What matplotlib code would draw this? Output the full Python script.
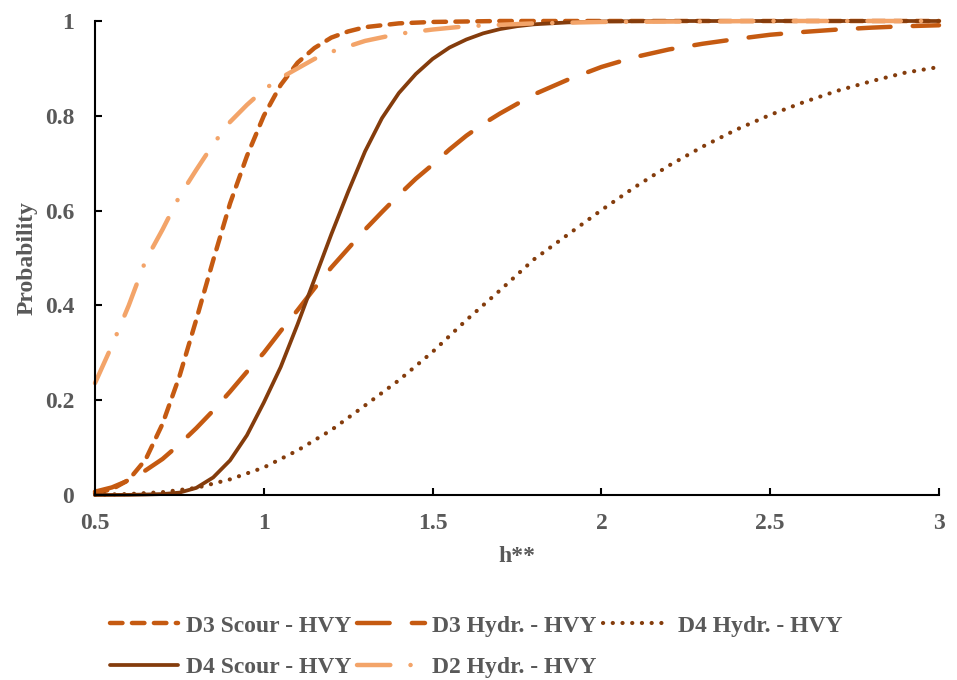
import matplotlib
matplotlib.use("Agg")
import matplotlib.pyplot as plt

# values
d3_scour_x = [0.5, 0.55, 0.6, 0.65, 0.7, 0.75, 0.8, 0.85, 0.9, 0.95, 1.0, 1.05,
              1.1, 1.15, 1.2, 1.25, 1.3, 1.4, 1.5, 1.7, 2.0, 2.5, 3.0]
d3_scour_y = [0.004, 0.012, 0.032, 0.075, 0.15, 0.25, 0.37, 0.495, 0.615, 0.715,
              0.80, 0.865, 0.912, 0.943, 0.965, 0.978, 0.987, 0.995, 0.998, 1.0,
              1.0, 1.0, 1.0]

d3_hydr_x = [0.5, 0.55, 0.6, 0.65, 0.7, 0.75, 0.8, 0.85, 0.9, 0.95, 1.0, 1.05,
             1.1, 1.15, 1.2, 1.25, 1.3, 1.35, 1.4, 1.45, 1.5, 1.55, 1.6, 1.65,
             1.7, 1.8, 1.9, 2.0, 2.1, 2.2, 2.3, 2.4, 2.5, 2.6, 2.7, 2.8, 2.9,
             3.0]
d3_hydr_y = [0.007, 0.016, 0.031, 0.052, 0.076, 0.107, 0.141, 0.178, 0.218,
             0.26, 0.30, 0.346, 0.39, 0.436, 0.48, 0.52, 0.56, 0.597, 0.633,
             0.667, 0.697, 0.729, 0.758, 0.783, 0.805, 0.845, 0.876, 0.903,
             0.924, 0.94, 0.952, 0.962, 0.971, 0.977, 0.982, 0.986, 0.989,
             0.991]

d4_hydr_x = [0.5, 0.6, 0.7, 0.8, 0.9, 1.0, 1.1, 1.2, 1.3, 1.4, 1.5, 1.6, 1.7,
             1.8, 1.9, 2.0, 2.1, 2.2, 2.3, 2.4, 2.5, 2.6, 2.7, 2.8, 2.9, 3.0]
d4_hydr_y = [0.0005, 0.002, 0.006, 0.015, 0.033, 0.058, 0.094, 0.137, 0.189,
             0.242, 0.302, 0.369, 0.432, 0.497, 0.549, 0.601, 0.650, 0.695,
             0.735, 0.771, 0.802, 0.829, 0.853, 0.873, 0.891, 0.903]

d4_scour_x = [0.5, 0.6, 0.65, 0.7, 0.75, 0.8, 0.85, 0.9, 0.95, 1.0, 1.05, 1.1,
              1.15, 1.2, 1.25, 1.3, 1.35, 1.4, 1.45, 1.5, 1.55, 1.6, 1.65, 1.7,
              1.75, 1.8, 1.9, 2.0, 2.2, 2.6, 3.0]
d4_scour_y = [0.0, 0.0003, 0.001, 0.002, 0.005, 0.015, 0.037, 0.073, 0.126,
              0.195, 0.27, 0.36, 0.455, 0.55, 0.64, 0.725, 0.795, 0.848, 0.888,
              0.92, 0.944, 0.961, 0.974, 0.983, 0.989, 0.993, 0.997, 0.999,
              1.0, 1.0, 1.0]

d2_hydr_x = [0.5, 0.55, 0.6, 0.65, 0.7, 0.75, 0.8, 0.85, 0.9, 0.95, 1.0, 1.05,
             1.1, 1.15, 1.2, 1.3, 1.4, 1.5, 1.6, 1.8, 2.0, 2.5, 3.0]
d2_hydr_y = [0.236, 0.315, 0.40, 0.495, 0.56, 0.63, 0.686, 0.74, 0.787, 0.823,
             0.855, 0.88, 0.90, 0.92, 0.935, 0.958, 0.973, 0.982, 0.989, 0.995,
             0.998, 1.0, 1.0]

x_ticks = [0.5, 1.0, 1.5, 2.0, 2.5, 3.0]
x_tick_labels = ["0.5", "1", "1.5", "2", "2.5", "3"]
y_ticks = [0.0, 0.2, 0.4, 0.6, 0.8, 1.0]
y_tick_labels = ["0", "0.2", "0.4", "0.6", "0.8", "1"]

TEXT = "#595959"
ORANGE = "#C55A11"
BROWN = "#843C0C"
LIGHT = "#F3A469"

plt.rcParams["font.family"] = ["Liberation Serif", "DejaVu Serif"]
plt.rcParams["font.weight"] = "bold"
plt.rcParams["lines.scale_dashes"] = False

fig = plt.figure(figsize=(9.57, 6.8), dpi=100)
ax = fig.add_axes([95 / 957, 1 - 495 / 680, 844 / 957, 474 / 680])

common = dict(clip_on=False, dash_capstyle="round", solid_capstyle="round")

ax.plot(d3_scour_x, d3_scour_y, color=ORANGE, lw=3.2, dashes=(9.0, 6.8),
        label="D3 Scour - HVY", **common)
ax.plot(d3_hydr_x, d3_hydr_y, color=ORANGE, lw=3.2, dashes=(23.5, 16.0),
        label="D3 Hydr. - HVY", **common)
ax.plot(d4_hydr_x, d4_hydr_y, color=BROWN, lw=3.0, dashes=(0.1, 6.9),
        label="D4 Hydr. - HVY", **common)
ax.plot(d4_scour_x, d4_scour_y, color=BROWN, lw=2.7,
        label="D4 Scour - HVY", **common)
ax.plot(d2_hydr_x, d2_hydr_y, color=LIGHT, lw=3.2,
        dashes=(24.0, 14.5, 0.1, 14.5), label="D2 Hydr. - HVY", **common)

ax.set_xlim(0.5, 3.0)
ax.set_ylim(0.0, 1.0)
ax.set_xticks(x_ticks)
ax.set_xticklabels(x_tick_labels)
ax.set_yticks(y_ticks)
ax.set_yticklabels(y_tick_labels)

for side in ("top", "right"):
    ax.spines[side].set_visible(False)
for side in ("left", "bottom"):
    ax.spines[side].set_linewidth(1.5)
    ax.spines[side].set_color("black")

ax.tick_params(axis="both", direction="in", length=5, width=1.5,
               colors="black", labelcolor=TEXT, labelsize=17)
ax.tick_params(axis="y", pad=15)
ax.tick_params(axis="x", pad=13)

ax.set_xlabel("h**", fontsize=17, color=TEXT, fontweight="bold", va="top")
ax.xaxis.set_label_coords(0.5, (495 - 546) / 474)
ax.set_ylabel("Probability", fontsize=17, color=TEXT, fontweight="bold")
ax.yaxis.set_label_coords((38 - 95) / 844, 0.5)

handles, labels = ax.get_legend_handles_labels()
order = [0, 3, 1, 4, 2]
leg = fig.legend([handles[i] for i in order], [labels[i] for i in order],
                 loc="upper left", bbox_to_anchor=(110 / 957, 1 - 615 / 680),
                 ncol=3, frameon=False, fontsize=17, handlelength=2.9,
                 handletextpad=0.3, columnspacing=0.25, labelspacing=0.85,
                 borderpad=0, borderaxespad=0)
for text in leg.get_texts():
    text.set_color(TEXT)

fig.savefig("out.png", dpi=100)
